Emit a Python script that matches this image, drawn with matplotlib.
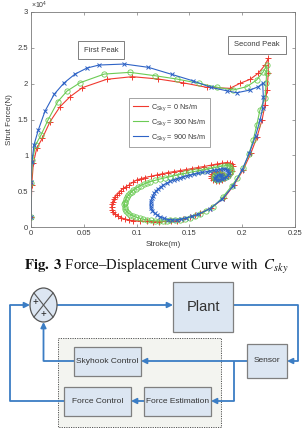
import math
import matplotlib
matplotlib.use('Agg')
import matplotlib.pyplot as plt
from matplotlib.patches import Rectangle, Ellipse
from matplotlib.lines import Line2D
from matplotlib.ticker import FuncFormatter

plt.rcParams['font.family'] = ['Liberation Sans', 'DejaVu Sans']
plt.rcParams['mathtext.fontset'] = 'custom'
plt.rcParams['mathtext.rm'] = 'Liberation Sans'
plt.rcParams['mathtext.it'] = 'Liberation Sans:italic'
plt.rcParams['mathtext.bf'] = 'Liberation Sans:bold'

# ---------------- data (stroke in m, strut force in N) ----------------
red_x = [0, 0.0007, 0.0022, 0.0054, 0.0107, 0.018, 0.0275, 0.037, 0.0486, 0.0716, 0.0959,
         0.1205, 0.1436, 0.1664, 0.1884, 0.198, 0.2074, 0.2152, 0.2216, 0.2247, 0.2247,
         0.2235, 0.2216, 0.2188, 0.214, 0.2083, 0.2008, 0.1922, 0.1828, 0.1705,
         0.16, 0.1553, 0.1506, 0.1443, 0.138, 0.1325, 0.127, 0.1214, 0.1158, 0.1095,
         0.1032, 0.0969, 0.093, 0.089, 0.0855, 0.0824, 0.08, 0.0777, 0.0768, 0.0764,
         0.0766, 0.0772, 0.0782, 0.0795, 0.081, 0.0829, 0.085, 0.0874, 0.09, 0.0928,
         0.0962, 0.1, 0.104, 0.108, 0.1135, 0.119, 0.1243, 0.1297, 0.1353, 0.141,
         0.1467, 0.1525, 0.158, 0.1638, 0.17, 0.1759, 0.1805, 0.1853, 0.1885, 0.1903,
         0.1913, 0.19, 0.1884, 0.1862, 0.1837, 0.181, 0.178, 0.175, 0.1723, 0.1708,
         0.1705, 0.1715, 0.1733, 0.176, 0.179, 0.1812, 0.1828]
red_f = [1400, 5860, 8880, 10980, 12370, 14690, 16790, 18180, 19440, 20605, 20977,
         20650, 20130, 19490, 19350, 20050, 20600, 21450, 22600, 23530, 21450,
         19110, 17020, 14930, 12560, 10320, 7950, 5860, 4045, 2650,
         1910, 1620, 1395, 1120, 880, 810, 770, 750, 740, 780,
         840, 880, 980, 1120, 1300, 1535, 1800, 2090, 2440, 2790,
         3140, 3490, 3840, 4185, 4460, 4740, 5080, 5400, 5640, 5860,
         6220, 6560, 6740, 6900, 7080, 7256, 7430, 7600, 7730, 7860,
         8010, 8160, 8300, 8440, 8620, 8790, 8900, 9000, 8950, 8790,
         8520, 7800, 7390, 7060, 6770, 6560, 6420, 6420, 6560, 6830,
         7110, 7400, 7600, 7700, 7670, 7480, 7250]

green_x = [0, 0.0003, 0.0014, 0.0043, 0.0095, 0.0161, 0.0253, 0.0341, 0.0464, 0.0694, 0.0937,
           0.1174, 0.138, 0.159, 0.1766, 0.1916, 0.2043, 0.2137, 0.22, 0.2233, 0.2231,
           0.2226, 0.2216, 0.2168, 0.2137, 0.2105, 0.2062, 0.2011, 0.1955, 0.19, 0.1818,
           0.1727, 0.166,
           0.16, 0.1553, 0.1506, 0.1458, 0.141, 0.1363, 0.1316, 0.1285, 0.1253, 0.1214,
           0.1174, 0.1136, 0.1098, 0.1065, 0.1032, 0.0999, 0.0966, 0.0942, 0.0919, 0.0903,
           0.089, 0.0886, 0.0885, 0.0887, 0.089, 0.0899, 0.0909, 0.0922, 0.0937, 0.0952,
           0.0969, 0.099, 0.1013, 0.104, 0.107, 0.1098, 0.1127, 0.1175, 0.1222, 0.1269,
           0.1316, 0.1363, 0.141, 0.1458, 0.1506, 0.1553, 0.16, 0.1648, 0.1695, 0.1743,
           0.179, 0.1825, 0.1856, 0.1878, 0.1889, 0.1895, 0.1894, 0.1884, 0.1866, 0.1843,
           0.1818, 0.1792, 0.1766, 0.1745, 0.1733, 0.1733, 0.1742, 0.1765, 0.179, 0.181,
           0.1823]
green_f = [1400, 6100, 9350, 11440, 12840, 14930, 17480, 18970, 20130, 21340, 21580,
           21110, 20650, 20050, 19490, 19120, 19580, 20510, 21670, 22600, 21480,
           20050, 18000, 16320, 14200, 12140, 10150, 8190, 6850, 5720, 4200,
           2830, 2250,
           1810, 1550, 1325, 1170, 1045, 980, 935, 880, 840, 845,
           865, 910, 975, 1080, 1210, 1360, 1535, 1740, 1955, 2230,
           2510, 2860, 3210, 3370, 3530, 3860, 4185, 4430, 4675, 4920,
           5160, 5370, 5580, 5790, 6000, 6160, 6320, 6510, 6700, 6860,
           7020, 7170, 7320, 7480, 7630, 7760, 7880, 8020, 8160, 8300,
           8440, 8530, 8580, 8500, 8370, 8100, 7810, 7480, 7180, 6950,
           6770, 6640, 6560, 6680, 6840, 7090, 7320, 7420, 7460, 7350,
           7180]

blue_x = [0, 0, 0.0009, 0.0028, 0.0069, 0.0133, 0.0221, 0.0312, 0.0417, 0.053, 0.0644,
          0.0884, 0.1111, 0.1332, 0.1531, 0.1702, 0.1853, 0.1948, 0.2074, 0.2152, 0.2194,
          0.22, 0.2194, 0.2169, 0.2126, 0.2067, 0.1998, 0.1913, 0.1813, 0.1695, 0.1581,
          0.1525, 0.1468, 0.1424, 0.138, 0.1338, 0.1297, 0.126, 0.1222, 0.1195, 0.117,
          0.115, 0.1136, 0.1132, 0.1132, 0.1136, 0.1143, 0.1152, 0.1165, 0.1182, 0.1203,
          0.1228, 0.1253, 0.1285, 0.1316, 0.135, 0.1383, 0.1412, 0.1442, 0.1474, 0.1506,
          0.1543, 0.1581, 0.1622, 0.1663, 0.1698, 0.1733, 0.1762, 0.179, 0.1815, 0.1837,
          0.1858, 0.187, 0.1872, 0.1866, 0.185, 0.1828, 0.1805, 0.178, 0.176, 0.1747,
          0.1747, 0.1755, 0.177, 0.179, 0.1803, 0.1809]
blue_f = [1400, 6320, 9070, 11440, 13530, 16180, 18550, 20090, 21340, 22180, 22600,
          22740, 22280, 21300, 20410, 19490, 19010, 18730, 19110, 19570, 20050,
          18180, 16560, 14930, 12690, 10280, 7950, 5720, 3910, 2580, 1745,
          1480, 1255, 1100, 975, 990, 1045, 1200, 1435, 1680, 1955,
          2280, 2610, 2980, 3350, 3680, 4000, 4350, 4700, 5000, 5300,
          5580, 5860, 6110, 6350, 6550, 6750, 6890, 7020, 7140, 7250,
          7370, 7490, 7610, 7720, 7810, 7900, 7980, 8050, 8090, 8100,
          8000, 7800, 7520, 7250, 7010, 6800, 6660, 6560, 6580, 6700,
          6900, 7110, 7220, 7250, 7190, 7100]

legend_labels = [r'C$_{\mathrm{Sky}}$ = 0 Ns/m', r'C$_{\mathrm{Sky}}$ = 300 Ns/m',
                 r'C$_{\mathrm{Sky}}$ = 900 Ns/m']
x_ticks = [0, 0.05, 0.1, 0.15, 0.2, 0.25]
y_ticks = [0, 5000, 10000, 15000, 20000, 25000, 30000]

# ---------------- styles ----------------
RED, GREEN, BLUE = '#f0392f', '#6ccb55', '#2e63c6'
SPINE = '#7a7a7a'
TXT = '#3a3a3a'

W, H = 303, 428
fig = plt.figure(figsize=(W / 100, H / 100), dpi=100)
fig.patch.set_facecolor('white')

ax = fig.add_axes([31 / W, 1 - 227 / H, 264 / W, 215 / H])
ax.plot(red_x, red_f, color=RED, lw=0.8, marker='+', ms=4, mew=0.7)
ax.plot(green_x, green_f, color=GREEN, lw=0.8, marker='o', ms=3.8, mew=0.6, mfc='none')
ax.plot(blue_x, blue_f, color=BLUE, lw=0.8, marker='x', ms=3, mew=0.7)

ax.set_xlim(0, 0.25)
ax.set_ylim(0, 30000)
ax.set_xticks(x_ticks)
ax.set_yticks(y_ticks)
ax.xaxis.set_major_formatter(FuncFormatter(lambda v, p: '%g' % v))
ax.yaxis.set_major_formatter(FuncFormatter(lambda v, p: '%g' % (v / 1e4)))
ax.tick_params(direction='in', length=2.5, width=0.5, top=True, right=True,
               labelsize=5.5, colors=SPINE, labelcolor=TXT, pad=2)
for s in ax.spines.values():
    s.set_color(SPINE)
    s.set_linewidth(0.6)
ax.text(0.0, 1.005, r'$\times10^4$', transform=ax.transAxes, fontsize=5,
        color=TXT, ha='left', va='bottom')
ax.set_xlabel('Stroke(m)', fontsize=5.8, color=TXT, labelpad=3)
ax.set_ylabel('Strut Force(N)', fontsize=5.8, color=TXT, labelpad=3)

handles = [Line2D([], [], color=c, lw=0.8) for c in (RED, GREEN, BLUE)]
leg = ax.legend(handles, legend_labels, loc='upper left', bbox_to_anchor=(0.371, 0.6),
                fontsize=5.2, frameon=True, fancybox=False, handlelength=2.0,
                handletextpad=0.4, labelspacing=0.55, borderpad=0.6, borderaxespad=0)
leg.get_frame().set_edgecolor('#7a7a7a')
leg.get_frame().set_linewidth(0.6)
for t in leg.get_texts():
    t.set_color(TXT)

box_kw = dict(boxstyle='square,pad=0.75', fc='white', ec='#6a6a6a', lw=0.6)
ax.text(0.265, 0.823, 'First Peak', transform=ax.transAxes, ha='center', va='center',
        fontsize=5.5, color=TXT, bbox=box_kw)
ax.text(0.856, 0.847, 'Second Peak', transform=ax.transAxes, ha='center', va='center',
        fontsize=5.5, color=TXT, bbox=box_kw)

# ---------------- caption ----------------
fig.text(156 / W, 1 - 267 / H, r'$\mathbf{Fig.\ 3}$ Force–Displacement Curve with  $C_{sky}$',
         fontsize=10.6, family='Liberation Serif', math_fontfamily='stix',
         ha='center', va='center', color='#111111')

# ---------------- block diagram ----------------
axd = fig.add_axes([0, 0, 1, 1])
axd.set_xlim(0, W)
axd.set_ylim(H, 0)
axd.axis('off')
axd.set_zorder(-1)

LC = '#3b7dc4'
BOX_FC = '#dce6f2'
BOX_EC = '#7f7f7f'

axd.add_patch(Rectangle((58, 338), 163, 89, fc='#f3f4f0', ec='#555555', lw=0.7,
                        ls=(0, (1.2, 1.2)), zorder=1))

blocks = {
    'Plant': ((173, 282, 60, 50), 10.5),
    'Sensor': ((247, 344, 40, 34), 6.0),
    'Skyhook Control': ((74, 347, 67, 29), 6.0),
    'Force Control': ((64, 387, 67, 29), 6.0),
    'Force Estimation': ((144, 387, 67, 29), 6.0),
}
for name, ((x0, y0, w, h), fs) in blocks.items():
    axd.add_patch(Rectangle((x0, y0), w, h, fc=BOX_FC, ec=BOX_EC, lw=0.9, zorder=3))
    axd.text(x0 + w / 2, y0 + h / 2, name, ha='center', va='center', fontsize=fs,
             family=['Liberation Sans Narrow', 'Liberation Sans'], color='#333333',
             zorder=4)

# summing junction
cx, cy, ew, eh = 43.5, 305, 27, 34
axd.add_patch(Ellipse((cx, cy), ew, eh, fc='#dce6f2', ec='#555555', lw=0.9, zorder=3))
c45 = math.cos(math.pi / 4)
axd.plot([cx - ew / 2 * c45, cx + ew / 2 * c45], [cy - eh / 2 * c45, cy + eh / 2 * c45],
         color='#555555', lw=0.8, zorder=4)
axd.plot([cx - ew / 2 * c45, cx + ew / 2 * c45], [cy + eh / 2 * c45, cy - eh / 2 * c45],
         color='#555555', lw=0.8, zorder=4)
axd.text(cx - 8, cy - 3, '+', ha='center', va='center', fontsize=7, color='#222222', zorder=5)
axd.text(cx, cy + 9, '+', ha='center', va='center', fontsize=7, color='#222222', zorder=5)


def wire(pts):
    xs = [p[0] for p in pts]
    ys = [p[1] for p in pts]
    if len(pts) > 2:
        axd.plot(xs[:-1], ys[:-1], color=LC, lw=1.3, zorder=2, solid_capstyle='butt')
    axd.annotate('', xy=pts[-1], xytext=pts[-2],
                 arrowprops=dict(arrowstyle='-|>', color=LC, lw=1.3, mutation_scale=8,
                                 shrinkA=0, shrinkB=0), zorder=2)


wire([(64, 401), (10, 401), (10, 305), (30, 305)])
wire([(57, 305), (173, 305)])
wire([(233, 305), (298, 305), (298, 361), (287, 361)])
wire([(247, 361), (141, 361)])
wire([(234, 361), (234, 401), (211, 401)])
wire([(144, 401), (131, 401)])
wire([(74, 361), (43.5, 361), (43.5, 322)])

fig.savefig('out.png', dpi=100, facecolor='white')
